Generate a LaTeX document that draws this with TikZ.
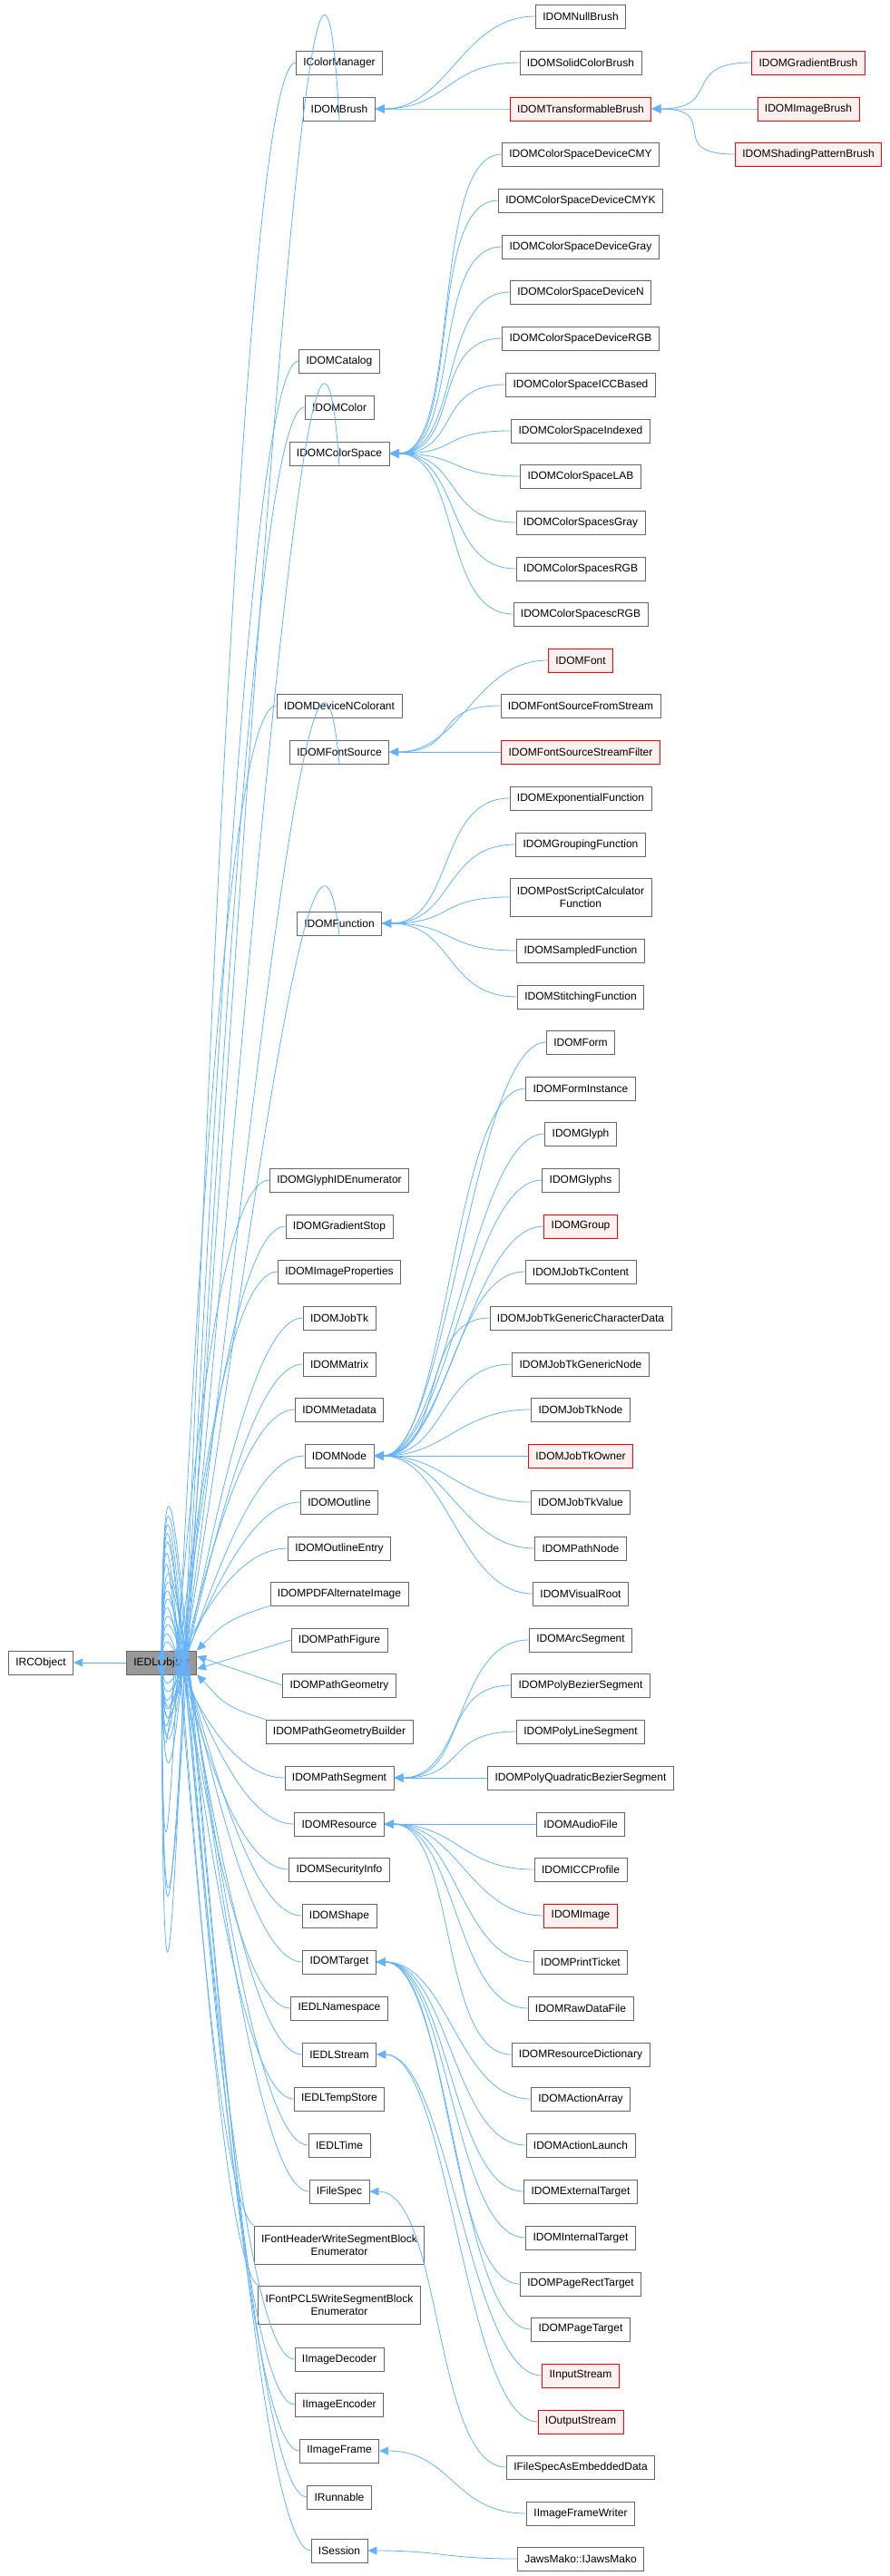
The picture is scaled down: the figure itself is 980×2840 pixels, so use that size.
\documentclass[tikz,border=0pt]{standalone}
\usepackage{fontspec}
\setmainfont{Liberation Sans}
\usetikzlibrary{arrows.meta,calc}
\definecolor{edgec}{RGB}{99,178,255}
\definecolor{boxc}{RGB}{102,102,102}
\definecolor{redfill}{RGB}{255,240,240}
\definecolor{grayfill}{RGB}{153,153,153}
\begin{document}
\begin{tikzpicture}[x=1pt,y=-1pt,
  box/.style={draw=boxc,fill=white,line width=0.9pt,inner xsep=8pt,inner ysep=0pt,minimum height=26pt,font=\fontsize{12}{14}\selectfont,align=center},
  redbox/.style={box,draw=red,fill=redfill},
  graybox/.style={box,fill=grayfill,draw=boxc},
  inh/.style={draw=edgec,line width=0.8pt,-{Triangle[length=10pt,width=9pt]}}]
\useasboundingbox (0,0) rectangle (980,2840);
% column 1
\node[box] (IRC) at (45,1833) {IRCObject};
\node[graybox] (EDL) at (178,1833) {IEDLObject};
% column 2
\foreach \k/\t/\y in {cm/IColorManager/69, br/IDOMBrush/120, cat/IDOMCatalog/398, col/IDOMColor/449, cs/IDOMColorSpace/500,
  dnc/IDOMDeviceNColorant/778, fs/IDOMFontSource/829, fn/IDOMFunction/1018, gide/IDOMGlyphIDEnumerator/1301,
  gs/IDOMGradientStop/1352, ip/IDOMImageProperties/1402, jt/IDOMJobTk/1453, mx/IDOMMatrix/1504, md/IDOMMetadata/1554,
  nd/IDOMNode/1605, ol/IDOMOutline/1656, ole/IDOMOutlineEntry/1707, pdfa/IDOMPDFAlternateImage/1757, pf/IDOMPathFigure/1808,
  pg/IDOMPathGeometry/1858, pgb/IDOMPathGeometryBuilder/1909, ps/IDOMPathSegment/1960, rs/IDOMResource/2011,
  si/IDOMSecurityInfo/2061, sh/IDOMShape/2112, tg/IDOMTarget/2163, ns/IEDLNamespace/2214, st/IEDLStream/2265,
  ts/IEDLTempStore/2314, tm/IEDLTime/2365, fsp/IFileSpec/2416, idec/IImageDecoder/2601, ienc/IImageEncoder/2651,
  ifr/IImageFrame/2702, run/IRunnable/2753, ses/ISession/2812}
  {\node[box] (\k) at (374,\y) {\t};}
\node[box,minimum height=42pt] (fh) at (374,2475) {IFontHeaderWriteSegmentBlock\\Enumerator};
\node[box,minimum height=42pt] (fp) at (374,2541) {IFontPCL5WriteSegmentBlock\\Enumerator};
% column 3
\foreach \k/\t/\y in {nb/IDOMNullBrush/18, sb/IDOMSolidColorBrush/69, c1/IDOMColorSpaceDeviceCMY/170,
  c2/IDOMColorSpaceDeviceCMYK/221, c3/IDOMColorSpaceDeviceGray/272, c4/IDOMColorSpaceDeviceN/322,
  c5/IDOMColorSpaceDeviceRGB/373, c6/IDOMColorSpaceICCBased/424, c7/IDOMColorSpaceIndexed/475,
  c8/IDOMColorSpaceLAB/525, c9/IDOMColorSpacesGray/576, c10/IDOMColorSpacesRGB/627, c11/IDOMColorSpacescRGB/677,
  fss/IDOMFontSourceFromStream/778, f1/IDOMExponentialFunction/880, f2/IDOMGroupingFunction/931,
  f4/IDOMSampledFunction/1048, f5/IDOMStitchingFunction/1099,
  n1/IDOMForm/1149, n2/IDOMFormInstance/1200, n3/IDOMGlyph/1250, n4/IDOMGlyphs/1301, n6/IDOMJobTkContent/1402,
  n7/IDOMJobTkGenericCharacterData/1453, n8/IDOMJobTkGenericNode/1504, n9/IDOMJobTkNode/1554,
  n11/IDOMJobTkValue/1656, n12/IDOMPathNode/1707, n13/IDOMVisualRoot/1757,
  p1/IDOMArcSegment/1808, p2/IDOMPolyBezierSegment/1858, p3/IDOMPolyLineSegment/1909, p4/IDOMPolyQuadraticBezierSegment/1960,
  r1/IDOMAudioFile/2011, r2/IDOMICCProfile/2061, r4/IDOMPrintTicket/2163, r5/IDOMRawDataFile/2214,
  r6/IDOMResourceDictionary/2265, t1/IDOMActionArray/2314, t2/IDOMActionLaunch/2365, t3/IDOMExternalTarget/2416,
  t4/IDOMInternalTarget/2467, t5/IDOMPageRectTarget/2518, t6/IDOMPageTarget/2568,
  fsae/IFileSpecAsEmbeddedData/2720, ifw/IImageFrameWriter/2771, jm/JawsMako::IJawsMako/2821}
  {\node[box] (\k) at (640,\y) {\t};}
\node[box,minimum height=42pt] (f3) at (640,989) {IDOMPostScriptCalculator\\Function};
\foreach \k/\t/\y in {tb/IDOMTransformableBrush/120, fo/IDOMFont/728, fsf/IDOMFontSourceStreamFilter/829,
  n5/IDOMGroup/1352, n10/IDOMJobTkOwner/1605, r3/IDOMImage/2112, is/IInputStream/2619, os/IOutputStream/2670}
  {\node[redbox] (\k) at (640,\y) {\t};}
% column 4
\foreach \k/\t/\y in {gb/IDOMGradientBrush/69, ib/IDOMImageBrush/120, spb/IDOMShadingPatternBrush/170}
  {\node[redbox] (\k) at (891,\y) {\t};}
% edges to IEDLObject
\draw[inh] (EDL) -- (IRC);
\foreach \k in {cm,cat,col,dnc,gide,gs,ip,jt,mx,md,nd,ol,ole}
  \draw[inh] let \p1=(\k.west),\p2=(EDL.north),\n1={0.75*abs(\y1-\y2)} in
    (\p1) .. controls +(-90,0) and ($(\p2)+(4,-\n1)$) .. (\p2);
\foreach \k in {br,cs,fs,fn}
  \draw[inh] let \p1=(\k.south),\p2=(EDL.north),\n1={0.45*abs(\y1-\y2)} in
    (\p1) .. controls ($(\p1)+(-40,\n1)$) and ($(\p2)+(10,-\n1)$) .. (\p2);
\draw[inh] (pdfa.south west) .. controls +(-50,15) and +(25,-25) .. (EDL.north east);
\draw[inh] (pf.west) -- ([yshift=-7pt]EDL.east);
\draw[inh] (pg.west) -- ([yshift=7pt]EDL.east);
\draw[inh] (pgb.north west) .. controls +(-50,-15) and +(25,25) .. (EDL.south east);
\foreach \k in {ps,rs,si,sh,tg,ns,st,ts,tm,fsp,idec,ienc,ifr,run,ses}
  \draw[inh] let \p1=(\k.west),\p2=(EDL.south),\n1={0.75*abs(\y1-\y2)} in
    (\p1) .. controls +(-90,0) and ($(\p2)+(4,\n1)$) .. (\p2);
\foreach \k in {fh,fp}
  \draw[inh] let \p1=(\k.north west),\p2=(EDL.south),\n1={0.75*abs(\y1-\y2)} in
    (\p1) .. controls +(-60,-40) and ($(\p2)+(4,\n1)$) .. (\p2);
% other edges
\foreach \c/\q in {nb/br,sb/br,tb/br,gb/tb,ib/tb,spb/tb,
  c1/cs,c2/cs,c3/cs,c4/cs,c5/cs,c6/cs,c7/cs,c8/cs,c9/cs,c10/cs,c11/cs,
  fo/fs,fss/fs,fsf/fs,f1/fn,f2/fn,f3/fn,f4/fn,f5/fn,
  n1/nd,n2/nd,n3/nd,n4/nd,n5/nd,n6/nd,n7/nd,n8/nd,n9/nd,n10/nd,n11/nd,n12/nd,n13/nd,
  p1/ps,p2/ps,p3/ps,p4/ps,r1/rs,r2/rs,r3/rs,r4/rs,r5/rs,r6/rs,
  t1/tg,t2/tg,t3/tg,t4/tg,t5/tg,t6/tg,is/st,os/st,fsae/fsp,ifw/ifr,jm/ses}
  \draw[inh] (\c.west) .. controls +(-80,0) and +(80,0) .. (\q.east);
\end{tikzpicture}
\end{document}
